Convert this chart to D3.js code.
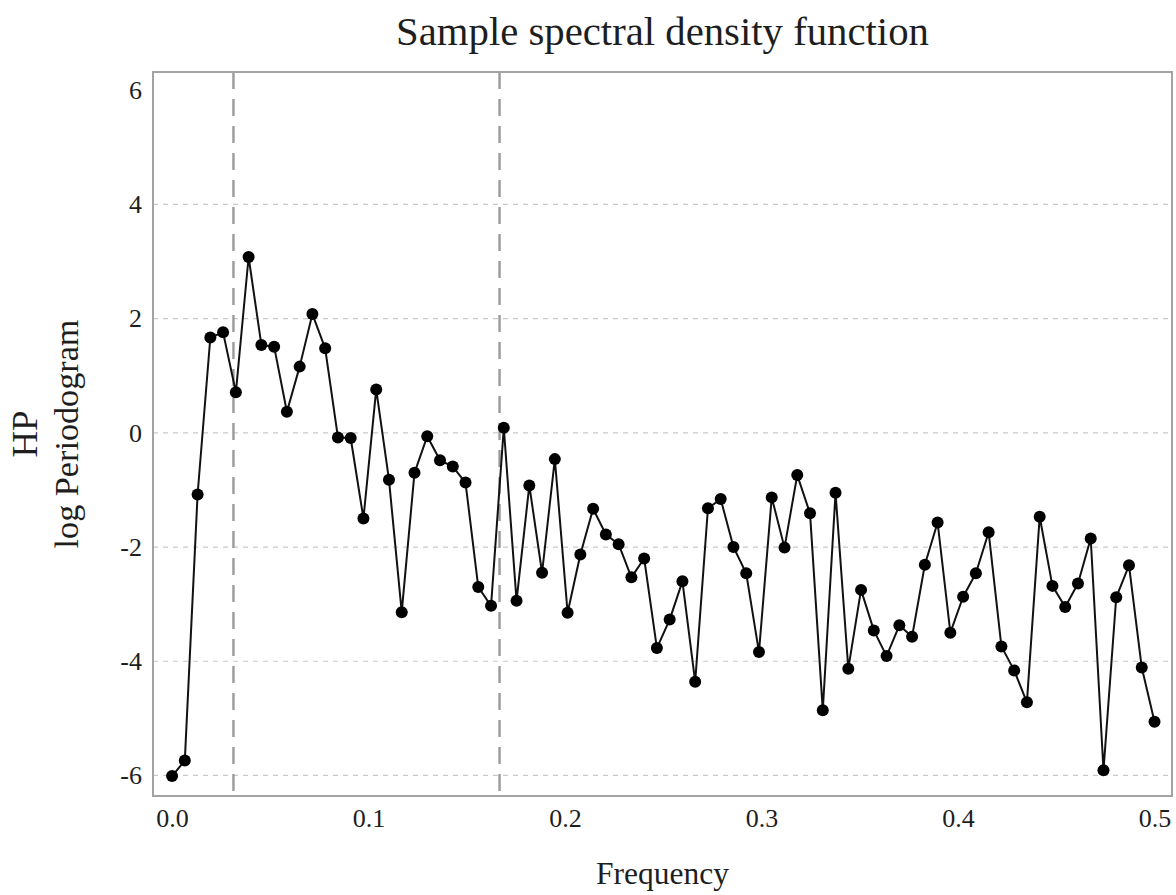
<!DOCTYPE html>
<html>
<head>
<meta charset="utf-8">
<script src="https://cdn.jsdelivr.net/npm/d3@7/dist/d3.min.js"></script>
<style>
  html, body { margin: 0; padding: 0; background: #fff; }
  svg { display: block; }
  text { font-family: "Liberation Serif", "DejaVu Serif", serif; fill: #1e1e1e; }
</style>
</head>
<body>
<svg id="chart" width="1176" height="895"></svg>
<script>
// ---- data ----
const frequencies = [
  0.00000, 0.00649, 0.01299, 0.01948, 0.02597, 0.03247, 0.03896, 0.04545, 0.05195, 0.05844,
  0.06494, 0.07143, 0.07792, 0.08442, 0.09091, 0.09740, 0.10390, 0.11039, 0.11688, 0.12338,
  0.12987, 0.13636, 0.14286, 0.14935, 0.15584, 0.16234, 0.16883, 0.17532, 0.18182, 0.18831,
  0.19481, 0.20130, 0.20779, 0.21429, 0.22078, 0.22727, 0.23377, 0.24026, 0.24675, 0.25325,
  0.25974, 0.26623, 0.27273, 0.27922, 0.28571, 0.29221, 0.29870, 0.30519, 0.31169, 0.31818,
  0.32468, 0.33117, 0.33766, 0.34416, 0.35065, 0.35714, 0.36364, 0.37013, 0.37662, 0.38312,
  0.38961, 0.39610, 0.40260, 0.40909, 0.41558, 0.42208, 0.42857, 0.43506, 0.44156, 0.44805,
  0.45455, 0.46104, 0.46753, 0.47403, 0.48052, 0.48701, 0.49351, 0.50000
];
const logPeriodogram = [
  -6.01, -5.74, -1.08, 1.67, 1.76, 0.71, 3.08, 1.54, 1.51, 0.37,
  1.16, 2.08, 1.48, -0.08, -0.09, -1.50, 0.76, -0.82, -3.14, -0.70,
  -0.06, -0.48, -0.59, -0.87, -2.70, -3.03, 0.09, -2.94, -0.92, -2.45,
  -0.46, -3.15, -2.13, -1.33, -1.78, -1.95, -2.53, -2.20, -3.77, -3.27,
  -2.60, -4.36, -1.32, -1.16, -2.00, -2.46, -3.84, -1.13, -2.01, -0.74,
  -1.41, -4.86, -1.05, -4.13, -2.75, -3.46, -3.91, -3.37, -3.57, -2.31,
  -1.57, -3.50, -2.87, -2.46, -1.74, -3.74, -4.16, -4.72, -1.47, -2.68,
  -3.05, -2.64, -1.85, -5.91, -2.88, -2.32, -4.11, -5.06
];
const bandLimits = [1 / 32, 1 / 6];
const xTicks = [0.0, 0.1, 0.2, 0.3, 0.4, 0.5];
const xTickLabels = ["0.0", "0.1", "0.2", "0.3", "0.4", "0.5"];
const yTicks = [-6, -4, -2, 0, 2, 4, 6];
const yTickLabels = ["-6", "-4", "-2", "0", "2", "4", "6"];
const yGrid = [-6, -4, -2, 0, 2, 4];
const titleText = "Sample spectral density function";
const xTitle = "Frequency";
const yTitleLines = ["HP", "log Periodogram"];

// ---- layout ----
const svg = d3.select("#chart");
const L = 153, R = 1172, T = 72, B = 796;

const x = d3.scaleLinear().domain([-0.0097, 0.5089]).range([L, R]);
const y = d3.scaleLinear().domain([-6.36, 6.32]).range([B, T]);

// fit helper: set font size so text spans target width
function fitText(sel, targetWidth) {
  sel.attr("font-size", 100);
  const w = sel.node().getComputedTextLength();
  sel.attr("font-size", 100 * targetWidth / w);
}

// horizontal grid lines
svg.append("g").selectAll("line").data(yGrid).join("line")
  .attr("x1", L).attr("x2", R)
  .attr("y1", d => y(d)).attr("y2", d => y(d))
  .attr("stroke", "#c9c9c9").attr("stroke-width", 1.2)
  .attr("stroke-dasharray", "5,5");

// band limit vertical lines
svg.append("g").selectAll("line").data(bandLimits).join("line")
  .attr("x1", d => x(d)).attr("x2", d => x(d))
  .attr("y1", T).attr("y2", B)
  .attr("stroke", "#9a9a9a").attr("stroke-width", 2.4)
  .attr("stroke-dasharray", "17,10");

// panel border
svg.append("rect")
  .attr("x", L).attr("y", T).attr("width", R - L).attr("height", B - T)
  .attr("fill", "none").attr("stroke", "#a3a3a3").attr("stroke-width", 2);

// axes
const xAxis = d3.axisBottom(x).tickValues(xTicks)
  .tickFormat((d, i) => xTickLabels[i]).tickSize(0).tickPadding(13);
const gx = svg.append("g").attr("transform", `translate(0,${B})`).call(xAxis);
gx.select(".domain").remove();
gx.selectAll("text").attr("font-size", 26).attr("fill", "#1e1e1e")
  .style("font-family", '"Liberation Serif", serif');

const yAxis = d3.axisLeft(y).tickValues(yTicks)
  .tickFormat((d, i) => yTickLabels[i]).tickSize(0).tickPadding(11);
const gy = svg.append("g").attr("transform", `translate(${L},0)`).call(yAxis);
gy.select(".domain").remove();
gy.selectAll("text").attr("font-size", 26).attr("fill", "#1e1e1e")
  .style("font-family", '"Liberation Serif", serif');

// data line and points
const data = frequencies.map((f, i) => ({ f: f, v: logPeriodogram[i] }));
svg.append("path").datum(data)
  .attr("fill", "none").attr("stroke", "#111").attr("stroke-width", 2)
  .attr("stroke-linejoin", "round")
  .attr("d", d3.line().x(d => x(d.f)).y(d => y(d.v)));
svg.append("g").selectAll("circle").data(data).join("circle")
  .attr("cx", d => x(d.f)).attr("cy", d => y(d.v)).attr("r", 6)
  .attr("fill", "#000");

// title
const cx = (L + R) / 2;
const title = svg.append("text").attr("x", cx).attr("y", 45)
  .attr("text-anchor", "middle").text(titleText);
fitText(title, 533);

// x title
const xt = svg.append("text").attr("x", cx).attr("y", 884)
  .attr("text-anchor", "middle").text(xTitle);
fitText(xt, 133);

// y title (two lines, rotated)
const cy = (T + B) / 2;
const yt1 = svg.append("text").attr("text-anchor", "middle")
  .attr("transform", `translate(37,${cy}) rotate(-90)`).text(yTitleLines[0]);
fitText(yt1, 47);
const yt2 = svg.append("text").attr("text-anchor", "middle")
  .attr("transform", `translate(78,${cy}) rotate(-90)`).text(yTitleLines[1]);
fitText(yt2, 229);
</script>
</body>
</html>
